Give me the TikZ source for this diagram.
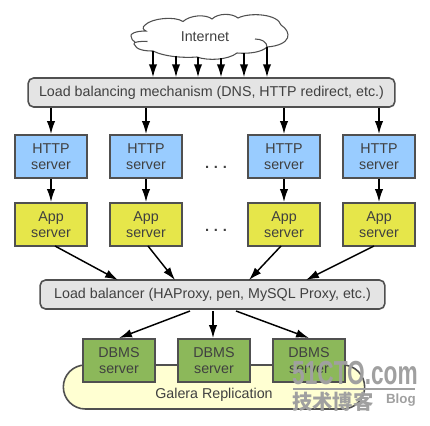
\documentclass[tikz,border=0pt]{standalone}
\usepackage{fontspec}
\setmainfont{Liberation Sans}
\newfontfamily\cjkfont{Noto Sans CJK SC}
\usepackage{xcolor}
\usetikzlibrary{arrows.meta,shapes.misc}
\definecolor{edgegray}{HTML}{505050}
\definecolor{inkgray}{HTML}{404040}
\definecolor{httpblue}{HTML}{99CCFF}
\definecolor{appyellow}{HTML}{E6E64A}
\definecolor{dbgreen}{HTML}{8CB85A}
\definecolor{lbgray}{HTML}{E4E4E4}
\definecolor{galerayellow}{HTML}{FFFFD2}
\definecolor{markgray}{HTML}{A0A0A0}
\begin{document}
\begin{tikzpicture}[x=.75pt, y=-.75pt, font=\fontsize{10.7}{12.2}\selectfont, text=inkgray,
  b/.style={draw=edgegray, line width=1.2pt, align=center, minimum width=54pt, minimum height=32.5pt, inner sep=0pt},
  H/.style={b, fill=httpblue}, A/.style={b, fill=appyellow}, D/.style={b, fill=dbgreen},
  L/.style={draw=edgegray, line width=1.2pt, rounded corners=4pt, fill=lbgray, inner sep=0pt, minimum height=21.7pt},
  a/.style={-{Latex[length=3.4mm,width=2.2mm]}, line width=1.1pt, black},
  m/.style={text=markgray, inner sep=0pt}]
 \useasboundingbox (0,0) rectangle (430,426);
 % Galera band (behind the DBMS row)
 \node[rounded rectangle, draw=edgegray, line width=1.2pt, fill=galerayellow, minimum width=226pt, minimum height=33pt, inner sep=0pt] (galera) at (214,387) {};
 \node (gl) at (214,395) {Galera Replication};
 % Internet
 \draw[edgegray, line width=.8pt, fill=white] (147.5,41.5) .. controls (140,41) and (133,42) .. (134,44)
   .. controls (136,50) and (145,51) .. (153,51) .. controls (165,57) and (185,58) .. (197,57)
   .. controls (208,61) and (228,60) .. (237,53) .. controls (250,54) and (262,52) .. (267,47)
   .. controls (292,45) and (292,32) .. (281,25) .. controls (278,14) and (250,12) .. (238,18)
   .. controls (232,13) and (218,13) .. (212,19) .. controls (206,14) and (190,15) .. (183,21.5)
   .. controls (175,16) and (152,18) .. (145,25) .. controls (142,27) and (143,30) .. (146,31)
   .. controls (135,31) and (130,34) .. (131,36) .. controls (131,39) and (133,41) .. (135,42);
 \draw[edgegray, line width=.8pt] (255,39) .. controls (262,39) and (267,42) .. (267,47);
 \node (it) at (205,36.5) {Internet};
 % Upper balancer
 \node[L, minimum width=275pt] (top) at (211.5,92.5) {Load balancing mechanism (DNS, HTTP redirect, etc.)};
 \coordinate (c1) at (153,51); \coordinate (c2) at (176,55.5); \coordinate (c3) at (198,57);
 \coordinate (c4) at (221,58); \coordinate (c5) at (244,53); \coordinate (c6) at (267,47);
 \draw[a] (c1)--(c1 |- top.north); \draw[a] (c2)--(c2 |- top.north); \draw[a] (c3)--(c3 |- top.north);
 \draw[a] (c4)--(c4 |- top.north); \draw[a] (c5)--(c5 |- top.north); \draw[a] (c6)--(c6 |- top.north);
 % HTTP row
 \node[H] (h1) at (51,156.5) {HTTP\\server};
 \node[H] (h2) at (146,156.5) {HTTP\\server};
 \node[H] (h3) at (284,156.5) {HTTP\\server};
 \node[H] (h4) at (379,156.5) {HTTP\\server};
 \node[font=\fontsize{11}{12}\bfseries\selectfont] (d1) at (216,167) {.\hspace{3.6pt}.\hspace{3.6pt}.};
 \draw[a] (h1 |- top.south)--(h1); \draw[a] (h2 |- top.south)--(h2);
 \draw[a] (h3 |- top.south)--(h3); \draw[a] (h4 |- top.south)--(h4);
 % App row
 \node[A] (a1) at (51,224.5) {App\\server};
 \node[A] (a2) at (146,224.5) {App\\server};
 \node[A] (a3) at (284,224.5) {App\\server};
 \node[A] (a4) at (379,224.5) {App\\server};
 \node[font=\fontsize{11}{12}\bfseries\selectfont] (d2) at (216,230) {.\hspace{3.6pt}.\hspace{3.6pt}.};
 \draw[a] (h1)--(a1); \draw[a] (h2)--(a2); \draw[a] (h3)--(a3); \draw[a] (h4)--(a4);
 % Lower balancer
 \node[L, minimum width=258.5pt] (lb) at (212.5,294.5) {Load balancer (HAProxy, pen, MySQL Proxy, etc.)};
 \coordinate (s1) at (55,246); \coordinate (s2) at (148,246); \coordinate (s3) at (281,246); \coordinate (s4) at (374,246);
 \coordinate (e1) at (118,280); \coordinate (e2) at (175,280); \coordinate (e3) at (249,280); \coordinate (e4) at (306,280);
 \draw[a] (s1)--(e1); \draw[a] (s2)--(e2); \draw[a] (s3)--(e3); \draw[a] (s4)--(e4);
 % DBMS row
 \node[D] (b1) at (119,360.5) {DBMS\\server};
 \node[D] (b2) at (214,360.5) {DBMS\\server};
 \node[D] (b3) at (309,360.5) {DBMS\\server};
 \coordinate (f1) at (190,311); \coordinate (f2) at (213,311); \coordinate (f3) at (236,311);
 \draw[a] (f1)--(b1.north); \draw[a] (f2)--(f2 |- b2.north); \draw[a] (f3)--(b3.north);
 % 51CTO mark
 \node[m, font=\fontsize{25}{25}\bfseries\selectfont, xscale=.68, anchor=south west] (w1) at (292,385.5) {51CTO.com};
 \coordinate (w2) at (293,388.5); \coordinate (w3) at (415,388.5);
 \draw[markgray, line width=1.5pt] (w2)--(w3);
 \node[m, font=\cjkfont\bfseries\fontsize{15.2}{16}\selectfont, anchor=north west] (w4) at (292,392) {技术博客};
 \node[m, font=\fontsize{10}{10}\bfseries\selectfont, anchor=north east] (w5) at (416,394) {Blog};
\end{tikzpicture}
\end{document}
